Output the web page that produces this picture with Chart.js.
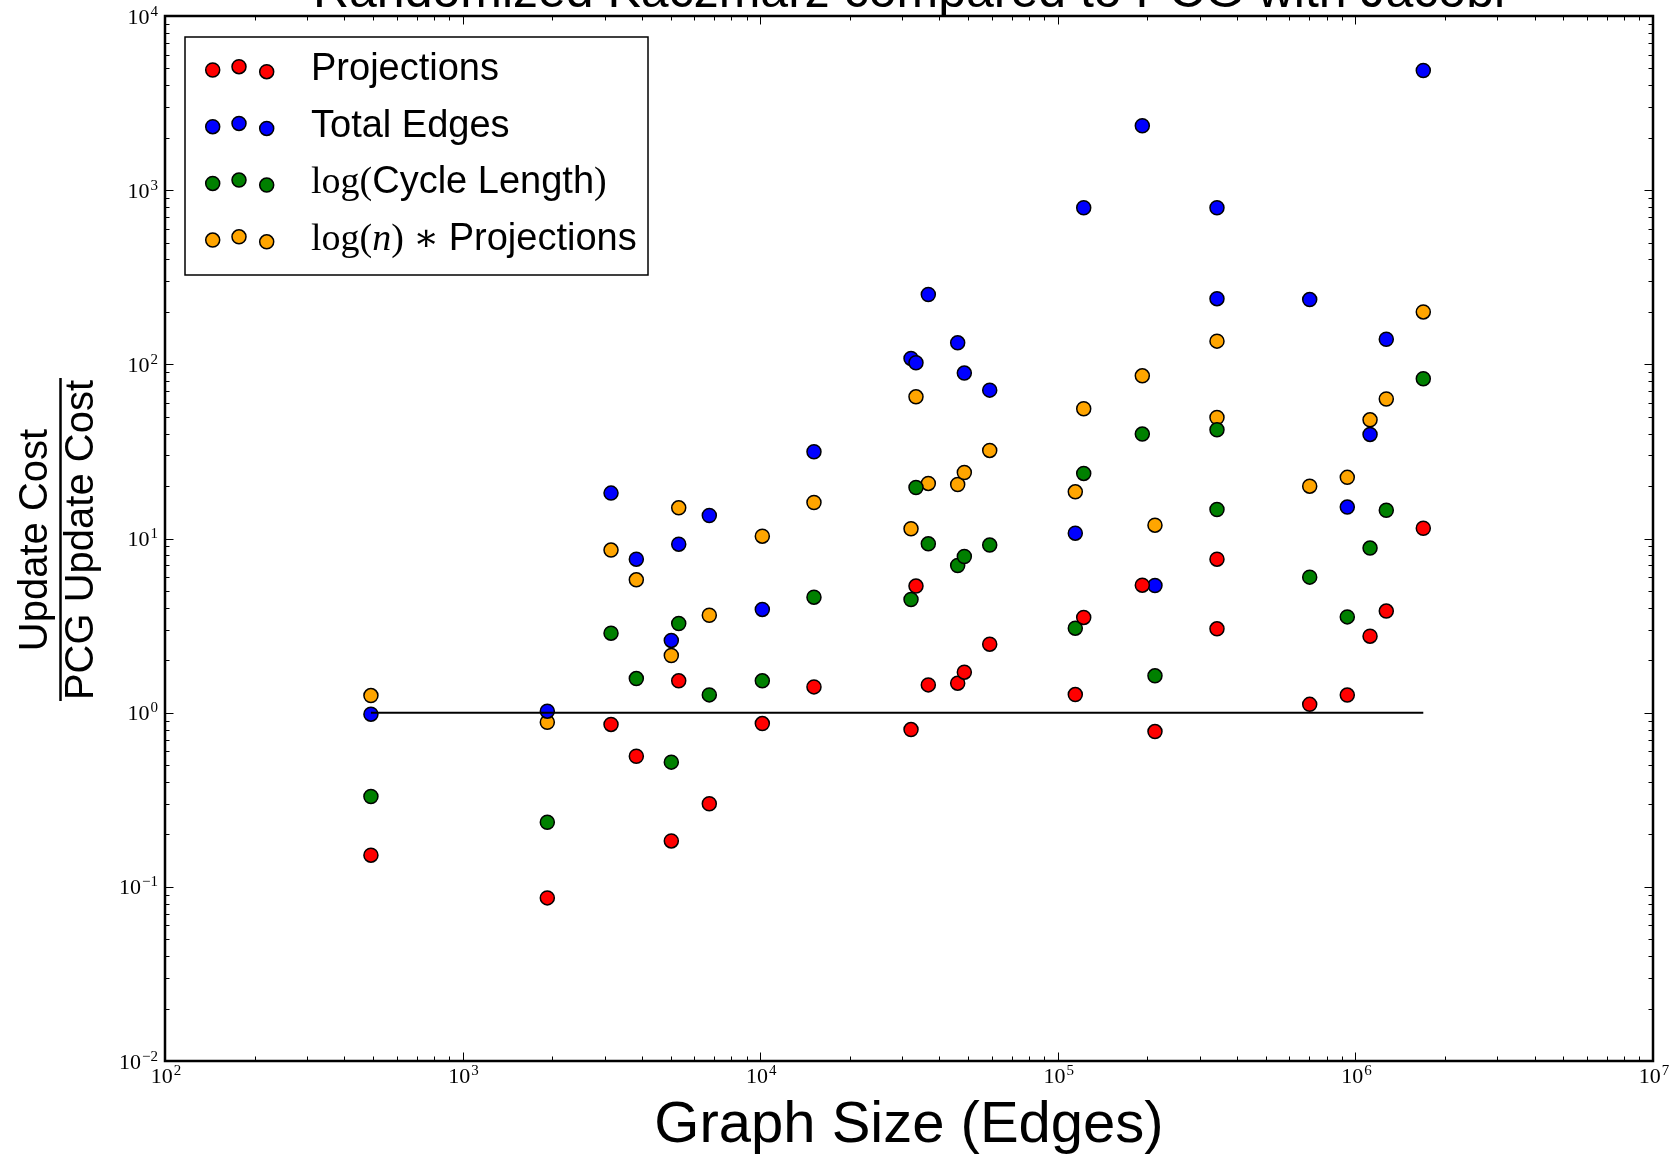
<!DOCTYPE html>
<html>
<head>
<meta charset="utf-8">
<title>Randomized Kaczmarz compared to PCG with Jacobi</title>
<script src="https://cdn.jsdelivr.net/npm/chart.js@4.4.1/dist/chart.umd.min.js"></script>
<style>
    html, body { margin: 0; padding: 0; background: #fff; }
    #wrap { width: 1670px; height: 1155px; }
</style>
</head>
<body>
<div id="wrap"><canvas id="chart" width="1670" height="1155"></canvas></div>
<script>
// graph size (edges) of each test graph
const edges = [492, 1926, 3153, 3835, 5027, 5324, 6745, 10165, 15160, 32120,
    33380, 36720, 46090, 48520, 59050, 114500, 122200, 192300, 212100, 342700,
    342700, 702200, 939200, 1120000, 1270000, 1691000];

// update cost ratios, one per graph
const projections = [0.152, 0.0864, 0.856, 0.562, 0.1835, 1.523, 0.300, 0.866, 1.406, 0.800,
    5.33, 1.444, 1.477, 1.708, 2.474, 1.270, 3.522, 5.397, 0.779, 7.61,
    3.03, 1.116, 1.262, 2.749, 3.83, 11.45];
const totalEdges = [0.980, 1.020, 18.22, 7.61, 2.598, 9.28, 13.56, 3.914, 31.5, 108.1,
    102.1, 251.8, 132.9, 89.1, 71.1, 10.73, 792.7, 2344, 5.375, 792.7,
    238.2, 235.5, 15.15, 39.6, 139.4, 4864];
const cycleLength = [0.330, 0.235, 2.860, 1.569, 0.520, 3.250, 1.265, 1.523, 4.603, 4.462,
    19.63, 9.32, 7.00, 7.88, 9.17, 3.055, 23.64, 39.76, 1.627, 42.12,
    14.67, 6.00, 3.548, 8.81, 14.53, 82.6];
const lognProjections = [1.254, 0.881, 8.58, 5.79, 2.130, 15.0, 3.627, 10.31, 16.09, 11.37,
    65.1, 20.72, 20.42, 23.94, 32.05, 18.53, 55.6, 85.9, 11.93, 135.9,
    49.5, 19.97, 22.44, 48.0, 63.2, 200];

const seriesNames = ["Projections", "Total Edges", "log(Cycle Length)", "log(n) * Projections"];
const seriesColors = ["#ff0000", "#0000ff", "#008000", "#ffa500"];
// legend text pieces: s = sans, m = math roman, mi = math italic
const legendParts = [
    [["Projections", "s"]],
    [["Total Edges", "s"]],
    [["log(", "m"], ["Cycle Length", "s"], [")", "m"]],
    [["log(", "m"], ["n", "mi"], [")", "m"], [" \u2217 ", "m"], ["Projections", "s"]]
];
const parityLevel = 1;

const xTicks = [1e2, 1e3, 1e4, 1e5, 1e6, 1e7];
const yTicks = [1e-2, 1e-1, 1e0, 1e1, 1e2, 1e3, 1e4];

const chartTitle = "Randomized Kaczmarz compared to PCG with Jacobi";
const xTitle = "Graph Size (Edges)";
const yTitleTop = "Update Cost";
const yTitleBottom = "PCG Update Cost";

const SANS = "'Liberation Sans', Arial, sans-serif";
const SERIF = "'Liberation Serif', 'DejaVu Serif', serif";

function as_points(ys) {
    return edges.map((x, i) => ({x, y: ys[i]}));
}

const datasets = [projections, totalEdges, cycleLength, lognProjections].map((ys, i) => ({
    label: seriesNames[i],
    data: as_points(ys),
    backgroundColor: seriesColors[i],
    borderColor: "#000",
    borderWidth: 1.5,
    pointRadius: 7,
    pointHoverRadius: 7
}));
datasets.push({
    label: "parity",
    data: [{x: Math.min(...edges), y: parityLevel}, {x: Math.max(...edges), y: parityLevel}],
    showLine: true,
    borderColor: "#000",
    borderWidth: 2,
    pointRadius: 0,
    order: -1
});

function draw_ticks(ctx, scale, a, horizontal, lo, hi) {
    for (let e = lo; e < hi; e++) {
        for (let k = 1; k < 10; k++) {
            const p = Math.round(scale.getPixelForValue(k * Math.pow(10, e))) + 0.5;
            const len = k === 1 ? 8.5 : 4.5;
            if (horizontal) {
                ctx.moveTo(p, a.bottom); ctx.lineTo(p, a.bottom - len);
                ctx.moveTo(p, a.top); ctx.lineTo(p, a.top + len);
            } else {
                ctx.moveTo(a.left, p); ctx.lineTo(a.left + len, p);
                ctx.moveTo(a.right, p); ctx.lineTo(a.right - len, p);
            }
        }
    }
}

// "10" with a raised exponent, like the mathtext labels
function draw_pow(ctx, v, x, y, align) {
    const exp = String(Math.round(Math.log10(v))).replace("-", "\u2212");
    ctx.font = "22px " + SERIF;
    const wb = ctx.measureText("10").width;
    ctx.font = "15px " + SERIF;
    const we = ctx.measureText(exp).width + 1;
    const x0 = align === "right" ? x - wb - we : x - (wb + we) / 2;
    ctx.textAlign = "left";
    ctx.font = "22px " + SERIF;
    ctx.fillText("10", x0, y);
    ctx.font = "15px " + SERIF;
    ctx.fillText(exp, x0 + wb + 1, y - 8);
}

const decor = {
    id: "decor",
    afterDraw(chart) {
        const {ctx, chartArea: a, scales} = chart;
        ctx.save();
        ctx.strokeStyle = "#000";
        ctx.fillStyle = "#000";

        // inward tick marks on all four sides
        ctx.lineWidth = 1;
        ctx.beginPath();
        draw_ticks(ctx, scales.x, a, true, 2, 7);
        draw_ticks(ctx, scales.y, a, false, -2, 4);
        ctx.stroke();
        ctx.lineWidth = 2.5;
        ctx.strokeRect(a.left, a.top, a.right - a.left, a.bottom - a.top);

        // tick labels
        ctx.textBaseline = "alphabetic";
        for (const t of scales.x.ticks) {
            draw_pow(ctx, t.value, scales.x.getPixelForValue(t.value) + 1, a.bottom + 22, "center");
        }
        for (const t of scales.y.ticks) {
            draw_pow(ctx, t.value, a.left - 7, scales.y.getPixelForValue(t.value) + 7.5, "right");
        }

        // title, cut by the top of the figure
        ctx.font = "50px " + SANS;
        ctx.textAlign = "center";
        ctx.fillText(chartTitle, (a.left + a.right) / 2, 7);

        // y label drawn as a fraction
        ctx.font = "40px " + SANS;
        ctx.save();
        ctx.translate(47, 540);
        ctx.rotate(-Math.PI / 2);
        ctx.fillText(yTitleTop, 0, 0);
        ctx.restore();
        ctx.save();
        ctx.translate(93, 540);
        ctx.rotate(-Math.PI / 2);
        ctx.fillText(yTitleBottom, 0, 0);
        ctx.restore();
        ctx.lineWidth = 2.5;
        ctx.beginPath();
        ctx.moveTo(60.5, 378);
        ctx.lineTo(60.5, 701);
        ctx.stroke();

        // legend, three markers per entry
        const lx = 185, ly = 37, lw = 463, lh = 238;
        ctx.fillStyle = "#fff";
        ctx.fillRect(lx, ly, lw, lh);
        ctx.lineWidth = 1.5;
        ctx.strokeRect(lx, ly, lw, lh);
        const markX = [212.7, 239, 266.7], markDy = [-10, -13.3, -8.3];
        const fonts = {s: "38px " + SANS, m: "38px " + SERIF, mi: "italic 38px " + SERIF};
        ctx.textAlign = "left";
        legendParts.forEach((parts, i) => {
            const base = 80 + i * 56.7;
            for (let j = 0; j < 3; j++) {
                ctx.beginPath();
                ctx.arc(markX[j], base + markDy[j], 7, 0, Math.PI * 2);
                ctx.fillStyle = chart.data.datasets[i].backgroundColor;
                ctx.fill();
                ctx.lineWidth = 1.5;
                ctx.stroke();
            }
            ctx.fillStyle = "#000";
            let cx = 311;
            for (const [txt, style] of parts) {
                ctx.font = fonts[style];
                ctx.fillText(txt, cx, base);
                cx += ctx.measureText(txt).width;
            }
        });
        ctx.restore();
    }
};

new Chart(document.querySelector("#chart"), {
    type: "scatter",
    data: {datasets},
    plugins: [decor],
    options: {
        responsive: false,
        devicePixelRatio: 1,
        animation: false,
        layout: {padding: {left: 0, right: 17, top: 16, bottom: 0}},
        plugins: {
            legend: {display: false},
            tooltip: {enabled: false},
            title: {display: false}
        },
        scales: {
            x: {
                type: "logarithmic",
                min: 1e2,
                max: 1e7,
                afterFit: s => { s.height = 94; },
                afterBuildTicks: s => { s.ticks = xTicks.map(value => ({value})); },
                grid: {display: false, drawTicks: false},
                border: {display: false},
                ticks: {display: false, autoSkip: false},
                title: {
                    display: true,
                    text: xTitle,
                    color: "#000",
                    font: {family: SANS, size: 58, lineHeight: 1},
                    padding: {top: 0, bottom: 0}
                }
            },
            y: {
                type: "logarithmic",
                min: 1e-2,
                max: 1e4,
                afterFit: s => { s.width = 165; },
                afterBuildTicks: s => { s.ticks = yTicks.map(value => ({value})); },
                grid: {display: false, drawTicks: false},
                border: {display: false},
                ticks: {display: false, autoSkip: false}
            }
        }
    }
});
</script>
</body>
</html>
